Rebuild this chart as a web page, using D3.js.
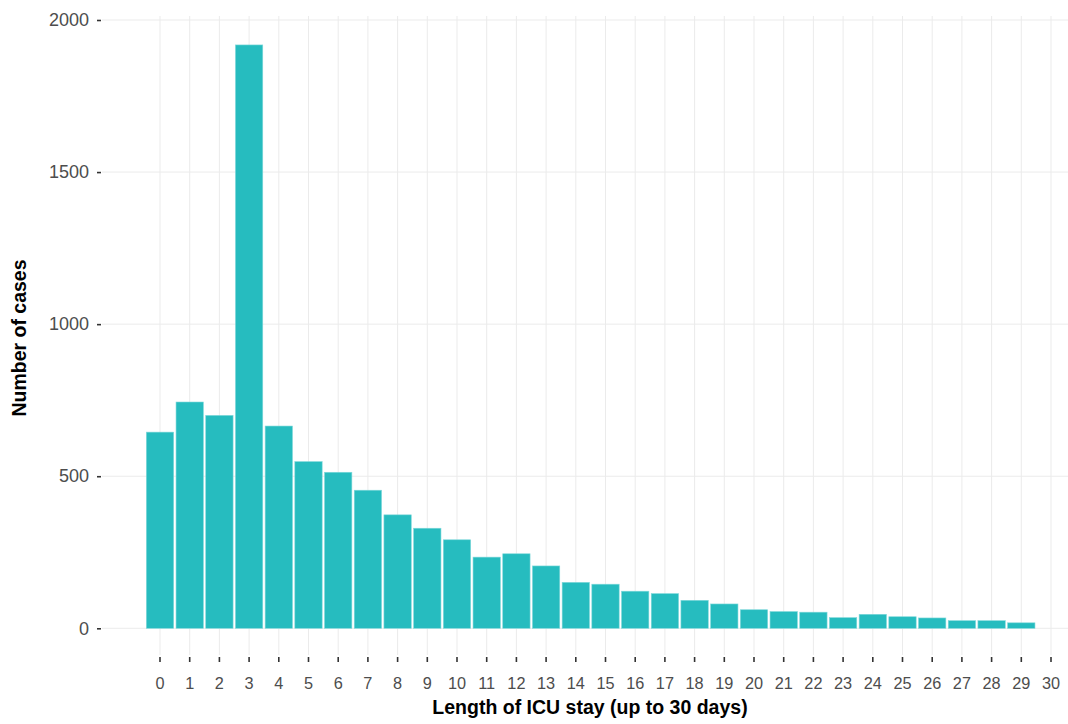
<!DOCTYPE html>
<html>
<head>
<meta charset="utf-8">
<script src="https://cdn.jsdelivr.net/npm/d3@7"></script>
<style>
  html, body { margin: 0; padding: 0; background: #ffffff; }
  svg { display: block; font-family: "Liberation Sans", Arial, sans-serif; }
</style>
</head>
<body>
<svg id="chart" width="1068" height="724"></svg>
<script>
// Length of ICU stay in days (0–30) and the number of cases for each
const days = d3.range(0, 31);
const cases = [645, 744, 700, 1918, 665, 548, 513, 454, 373, 329,
               291, 234, 245, 205, 151, 145, 122, 114, 92, 80,
               61, 55, 53, 35, 46, 38, 34, 25, 25, 18, 0];
const yTicks = [0, 500, 1000, 1500, 2000];

const xTitle = "Length of ICU stay (up to 30 days)";
const yTitle = "Number of cases";

const svg = d3.select("#chart");

// plotting panel
const panel = { left: 102, right: 1068, top: 16, bottom: 655 };

const x = d3.scaleBand()
  .domain(days)
  .range([145.15, 1065.85])
  .paddingInner(0.08)
  .paddingOuter(0.04);

const y = d3.scaleLinear()
  .domain([0, 2000])
  .range([628.3, 20]);

const barColor = "#26bcbf";
const gridColor = "#ebebeb";

// grid lines
const grid = svg.append("g");
grid.selectAll("line.h")
  .data(yTicks)
  .join("line")
  .attr("x1", panel.left).attr("x2", panel.right)
  .attr("y1", d => y(d)).attr("y2", d => y(d))
  .attr("stroke", gridColor).attr("stroke-width", 1);
grid.selectAll("line.v")
  .data(days)
  .join("line")
  .attr("x1", d => x(d) + x.bandwidth() / 2)
  .attr("x2", d => x(d) + x.bandwidth() / 2)
  .attr("y1", panel.top).attr("y2", panel.bottom)
  .attr("stroke", gridColor).attr("stroke-width", 1);

// bars
svg.append("g")
  .selectAll("rect")
  .data(days.map((d, i) => ({ day: d, n: cases[i] })).filter(d => d.n > 0))
  .join("rect")
  .attr("x", d => x(d.day))
  .attr("width", x.bandwidth())
  .attr("y", d => y(d.n))
  .attr("height", d => y(0) - y(d.n))
  .attr("fill", barColor)
  .attr("stroke", "#7fd8da")
  .attr("stroke-width", 0.6);

// x axis: ticks and labels
const xAxis = svg.append("g").attr("transform", `translate(0,${panel.bottom + 2})`)
  .call(d3.axisBottom(x).tickSize(5).tickPadding(15).tickFormat(d3.format("d")));
xAxis.select(".domain").remove();
xAxis.selectAll(".tick line").attr("stroke", "#333333").attr("stroke-width", 1.6);
xAxis.selectAll(".tick text")
  .attr("fill", "#4d4d4d")
  .style("font-size", "16.3px")
  .style("font-family", "'Liberation Sans', Arial, sans-serif");

// y axis: ticks and labels
const yAxis = svg.append("g").attr("transform", `translate(${panel.left - 1},0)`)
  .call(d3.axisLeft(y).tickValues(yTicks).tickSize(4).tickPadding(8).tickFormat(d3.format("d")));
yAxis.select(".domain").remove();
yAxis.selectAll(".tick line").attr("stroke", "#333333").attr("stroke-width", 1.6);
yAxis.selectAll(".tick text")
  .attr("fill", "#4d4d4d")
  .style("font-size", "18px")
  .style("font-family", "'Liberation Sans', Arial, sans-serif");

// axis titles
svg.append("text")
  .attr("x", 590).attr("y", 714)
  .attr("text-anchor", "middle")
  .style("font-size", "19.5px").style("font-weight", "bold")
  .attr("fill", "#000000")
  .text(xTitle);

svg.append("text")
  .attr("transform", "translate(26,338) rotate(-90)")
  .attr("text-anchor", "middle")
  .style("font-size", "19.5px").style("font-weight", "bold")
  .attr("fill", "#000000")
  .text(yTitle);
</script>
</body>
</html>
